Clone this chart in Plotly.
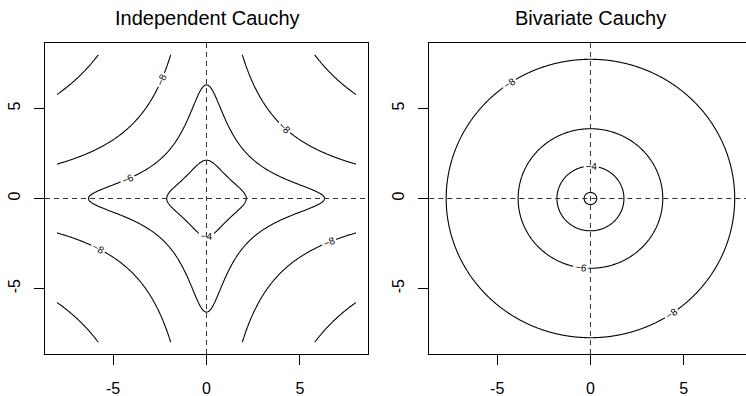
import numpy as np
import plotly.graph_objects as go

# grid on which the log densities are evaluated
grid_lo, grid_hi, grid_n = -8, 8, 401
levels_indep = [-10, -8, -6, -4]
levels_biv = [-8, -6, -4, -2]
tick_vals = [-5, 0, 5]
tick_text = ["-5", "0", "5"]
titles = ["Independent Cauchy", "Bivariate Cauchy"]

xs = np.linspace(grid_lo, grid_hi, grid_n)
ys = np.linspace(grid_lo, grid_hi, grid_n)
X, Y = np.meshgrid(xs, ys)

# log density of two independent standard Cauchy variables
z_indep = -np.log(np.pi ** 2) - np.log1p(X ** 2) - np.log1p(Y ** 2)
# log density of the bivariate (t with 1 df) Cauchy
z_biv = -np.log(2 * np.pi) - 1.5 * np.log1p(X ** 2 + Y ** 2)

font = "Liberation Sans, Arial, Helvetica, sans-serif"
W, H = 746, 396


def contour(z, levels, xa, ya):
    return go.Contour(
        x=xs, y=ys, z=z, xaxis=xa, yaxis=ya,
        autocontour=False,
        contours=dict(start=levels[0], end=levels[-1], size=2,
                      coloring="lines", showlabels=True,
                      labelfont=dict(size=10, color="black", family=font)),
        colorscale=[[0, "black"], [1, "black"]],
        line=dict(color="black", width=1.1),
        showscale=False, hoverinfo="skip",
    )


fig = go.Figure()
fig.add_trace(contour(z_indep, levels_indep, "x", "y"))
fig.add_trace(contour(z_biv, levels_biv, "x2", "y2"))

ydom = [1 - 354 / H, 1 - 43 / H]
axis_common = dict(
    tickvals=tick_vals, ticktext=tick_text, ticks="outside", ticklen=10,
    tickcolor="black", tickwidth=1, showgrid=False, zeroline=False,
    showline=True, linecolor="black", linewidth=1, automargin=False,
    tickfont=dict(size=16, color="black", family=font),
)
fig.update_layout(
    template="none",
    width=W, height=H,
    margin=dict(l=0, r=0, t=0, b=0),
    plot_bgcolor="white", paper_bgcolor="white",
    showlegend=False,
    xaxis=dict(domain=[45 / W, 368 / W], range=[-8.64, 8.64], mirror=True,
               anchor="y", ticklabelstandoff=10, **axis_common),
    yaxis=dict(domain=ydom, range=[-8.64, 8.64], mirror=True, anchor="x",
               tickangle=-90, ticklabelstandoff=8, **axis_common),
    xaxis2=dict(domain=[429.3 / W, 1.0], range=[-8.64, 8.34], mirror=True,
                anchor="y2", ticklabelstandoff=10, **axis_common),
    yaxis2=dict(domain=ydom, range=[-8.64, 8.64], mirror=False, anchor="x2",
                tickangle=-90, ticklabelstandoff=8, **axis_common),
)

# dashed reference lines through the origin
for xr, yr in [("x", "y"), ("x2", "y2")]:
    fig.add_shape(type="line", xref=xr, yref=yr + " domain", x0=0, x1=0, y0=0, y1=1,
                  line=dict(color="#333333", width=1, dash="5px,4px"))
    fig.add_shape(type="line", xref=xr + " domain", yref=yr, x0=0, x1=1, y0=0, y1=0,
                  line=dict(color="#333333", width=1, dash="5px,4px"))

for title, cx in zip(titles, [207, 590]):
    fig.add_annotation(text=title, x=cx / W, y=1 - 17.5 / H, xref="paper", yref="paper",
                       xanchor="center", yanchor="middle", showarrow=False,
                       font=dict(size=20, color="black", family=font))

fig.write_html("out.html", config={"displayModeBar": False},
               post_script="document.body.style.margin='0';")
